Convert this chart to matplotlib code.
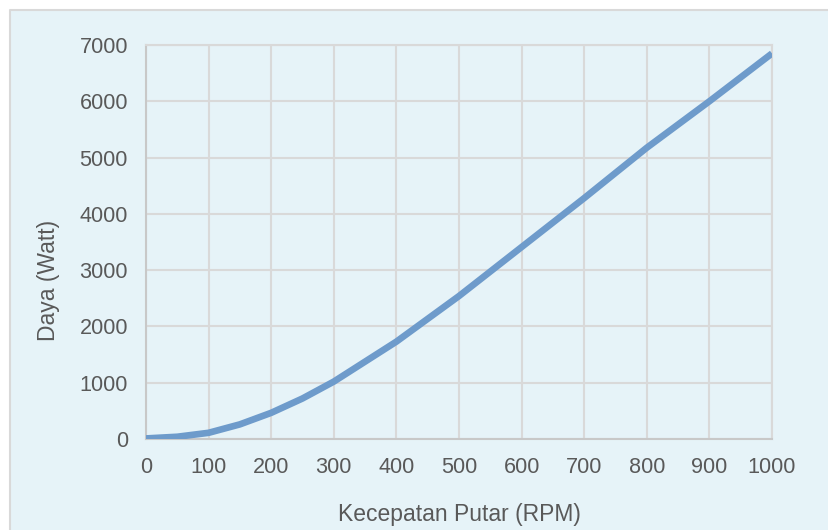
import matplotlib
matplotlib.use("Agg")
import matplotlib.pyplot as plt
from matplotlib.patches import Rectangle
from matplotlib.lines import Line2D

# Data
rpm = [0, 50, 100, 150, 200, 250, 300, 400, 500, 600, 700, 800, 900, 1000]
daya = [10, 40, 110, 260, 465, 720, 1020, 1730, 2540, 3410, 4280, 5175, 6000, 6850]

x_ticks = [0, 100, 200, 300, 400, 500, 600, 700, 800, 900, 1000]
y_ticks = [0, 1000, 2000, 3000, 4000, 5000, 6000, 7000]

bg = "#e6f3f8"
grid_col = "#d9d9d9"
text_col = "#595959"
line_col = "#6e9bcb"

plt.rcParams["font.family"] = ["Liberation Sans", "DejaVu Sans"]

W, H = 829, 530
fig = plt.figure(figsize=(W / 100, H / 100), dpi=100)
fig.patch.set_facecolor("white")

# chart area, with a light border on top and left only
fig.patches.append(Rectangle((10 / W, 0), 1, (H - 10) / H,
                             transform=fig.transFigure, facecolor=bg,
                             edgecolor="none", zorder=-1))
fig.lines.append(Line2D([10 / W, 10 / W, 1], [0, (H - 10) / H, (H - 10) / H],
                        transform=fig.transFigure, color=grid_col,
                        linewidth=1.5, zorder=-0.5))

ax = fig.add_axes([146 / W, (H - 439) / H, (772 - 146) / W, (439 - 45) / H])
ax.set_facecolor(bg)
ax.plot(rpm, daya, color=line_col, linewidth=4.8, solid_capstyle="butt",
        solid_joinstyle="round", zorder=3)

ax.set_xlim(0, 1000)
ax.set_ylim(0, 7000)
ax.set_xticks(x_ticks)
ax.set_yticks(y_ticks)
ax.grid(True, color=grid_col, linewidth=1.5)
ax.set_axisbelow(True)
for s in ax.spines.values():
    s.set_color(grid_col)
    s.set_linewidth(1.5)
ax.spines["left"].set_color("#c8c8c8")
ax.spines["bottom"].set_color("#c8c8c8")
ax.tick_params(length=0, labelsize=15.6, colors=text_col, pad=13)

fig.text(459 / W, 1 - 514 / H, "Kecepatan Putar (RPM)", ha="center", va="center",
         fontsize=16.5, color=text_col)
fig.text(49 / W, 1 - 280 / H, "Daya (Watt)", ha="center", va="center",
         rotation=90, fontsize=16.5, color=text_col)

fig.savefig("out.png", dpi=100, facecolor=fig.get_facecolor())
